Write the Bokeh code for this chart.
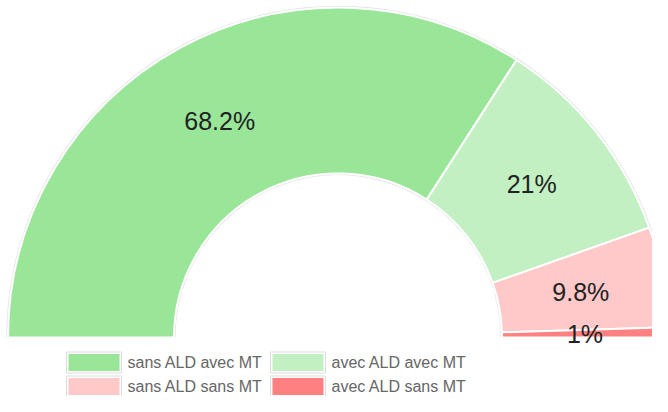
import math
from bokeh.plotting import figure
from bokeh.models import Range1d, ColumnDataSource
from bokeh.core.properties import value
from bokeh.embed import file_html
from bokeh.resources import INLINE

categories = ["sans ALD avec MT", "avec ALD avec MT", "sans ALD sans MT", "avec ALD sans MT"]
values = [68.2, 21, 9.8, 1]
labels = ["68.2%", "21%", "9.8%", "1%"]
colors = ["#99e699", "#c2f0c2", "#ffc9c9", "#ff8080"]

W, H = 652, 396
p = figure(width=W, height=H, output_backend="svg", toolbar_location=None,
           x_range=Range1d(0, W), y_range=Range1d(0, H), min_border=0)
p.axis.visible = False
p.grid.visible = False
p.outline_line_color = None
p.background_fill_color = "white"
p.border_fill_color = "white"

# screen coords (from top-left) -> data coords
def px(x):
    return x
def py(y):
    return H - y

cx, cy = px(337.5), py(337)
R_out, R_in = 330, 164

total = sum(values)
starts, ends, mids = [], [], []
a = math.pi
for v in values:
    span = math.pi * v / total
    starts.append(a - span)
    ends.append(a)
    mids.append(a - span / 2)
    a -= span

# faint shadow
p.annular_wedge(x=cx, y=cy, inner_radius=R_in - 1.5, outer_radius=R_out + 1.8,
                start_angle=0, end_angle=math.pi, fill_color="#d8d8d8",
                line_color=None, fill_alpha=0.7)

src = ColumnDataSource(dict(start=starts, end=ends, color=colors))
p.annular_wedge(x=cx, y=cy, inner_radius=R_in, outer_radius=R_out,
                start_angle="start", end_angle="end", fill_color="color",
                line_color="white", line_width=2, source=src)

R_lab = (R_in + R_out) / 2
lx = [cx + R_lab * math.cos(m) for m in mids]
ly = [cy + R_lab * math.sin(m) for m in mids]
p.text(x=lx, y=ly, text=labels, text_align="center", text_baseline="middle",
       text_font=value("Liberation Sans"), text_font_size="25px", text_color="#222222")

# legend (2 columns)
col_x = [66, 270]
row_y = [362, 386]
sx, sy, tx, ty = [], [], [], []
for i, c in enumerate(categories):
    col, row = i % 2, i // 2
    sx.append(px(col_x[col] + 27.5))
    sy.append(py(row_y[row]))
    tx.append(px(col_x[col] + 61))
    ty.append(py(row_y[row]))
p.rect(x=sx, y=sy, width=55, height=21, fill_color="white", line_color="#dddddd", line_width=1)
p.rect(x=sx, y=sy, width=51, height=17, fill_color=colors, line_color=None)
p.text(x=tx, y=ty, text=categories, text_align="left", text_baseline="middle",
       text_font=value("Liberation Sans"), text_font_size="16px", text_color="#666666")

open("out.html", "w").write(file_html(p, INLINE))
